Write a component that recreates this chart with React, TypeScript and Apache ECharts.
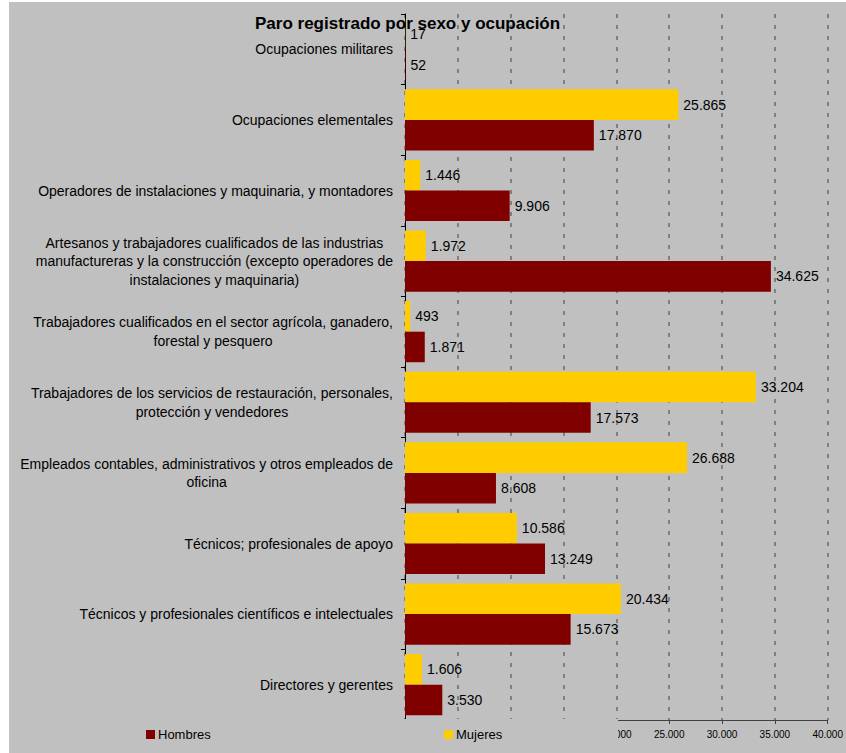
import React, { useEffect, useRef } from "react";
import * as echarts from "echarts";

const categories = [
  "Directores y gerentes",
  "Técnicos y profesionales científicos e intelectuales",
  "Técnicos; profesionales de apoyo",
  "Empleados contables, administrativos y otros empleados de\noficina",
  "Trabajadores de los servicios de restauración, personales,\nprotección y vendedores",
  "Trabajadores cualificados en el sector agrícola, ganadero,\nforestal y pesquero",
  "Artesanos y trabajadores cualificados de las industrias\nmanufactureras y la construcción (excepto operadores de\ninstalaciones y maquinaria)",
  "Operadores de instalaciones y maquinaria, y montadores",
  "Ocupaciones elementales",
  "Ocupaciones militares",
];

const hombres = [3530, 15673, 13249, 8608, 17573, 1871, 34625, 9906, 17870, 52];
const mujeres = [1606, 20434, 10586, 26688, 33204, 493, 1972, 1446, 25865, 17];

const xTicks = { min: 0, max: 40000, interval: 5000 };
// tick labels hidden behind the legend box in the reference
const hiddenBelow = 20000;

const FONT = "'Liberation Sans', Arial, sans-serif";

function fmt(n: number): string {
  return String(n).replace(/\B(?=(\d{3})+(?!\d))/g, ".");
}

export default function App() {
  const ref = useRef<HTMLDivElement>(null);

  useEffect(() => {
    document.body.style.margin = "0";
    if (!ref.current) return;
    const chart = echarts.init(ref.current, undefined, { renderer: "svg" });

    const barLabel = {
      show: true,
      position: "right",
      distance: 5,
      fontFamily: FONT,
      fontSize: 14,
      color: "#000",
      formatter: (p: any) => fmt(p.value),
    };

    const option: any = {
      animation: false,
      backgroundColor: "#ffffff",
      textStyle: { fontFamily: FONT },
      title: {
        text: "Paro registrado por sexo y ocupación",
        left: 255,
        top: 15,
        padding: 0,
        textStyle: {
          fontFamily: FONT,
          fontSize: 17,
          fontWeight: "bold",
          color: "#000",
        },
        z: 20,
      },
      legend: [
        {
          data: ["Hombres"],
          left: 146,
          top: 728,
          padding: 0,
          itemWidth: 9,
          itemHeight: 9,
          icon: "rect",
          textStyle: { fontFamily: FONT, fontSize: 13, color: "#000", padding: [0, 0, 0, -2] },
          z: 60,
        },
        {
          data: ["Mujeres"],
          left: 444,
          top: 728,
          padding: 0,
          itemWidth: 9,
          itemHeight: 9,
          icon: "rect",
          textStyle: { fontFamily: FONT, fontSize: 13, color: "#000", padding: [0, 0, 0, -2] },
          z: 60,
        },
      ],
      grid: { left: 405, right: 17, top: 14, bottom: 33, containLabel: false },
      xAxis: {
        type: "value",
        min: xTicks.min,
        max: xTicks.max,
        interval: xTicks.interval,
        axisLine: { show: true, lineStyle: { color: "#404040", width: 1 } },
        axisTick: { show: true, length: 4, lineStyle: { color: "#404040" } },
        axisLabel: {
          fontFamily: FONT,
          fontSize: 10,
          color: "#000",
          margin: 9,
          formatter: (v: number) => (v < hiddenBelow ? "" : fmt(v)),
        },
        splitLine: {
          show: true,
          lineStyle: { color: "#808080", width: 2, type: [4, 7] },
        },
      },
      yAxis: {
        type: "category",
        data: categories,
        axisLine: { show: true, lineStyle: { color: "#000", width: 1 } },
        axisTick: { show: true, length: 4, lineStyle: { color: "#000" } },
        axisLabel: {
          fontFamily: FONT,
          fontSize: 14,
          color: "#000",
          margin: 12,
          align: "right",
          formatter: (v: string) =>
            v
              .split("\n")
              .map((l) => `{c|${l}}`)
              .join("\n"),
          rich: {
            c: {
              fontFamily: FONT,
              fontSize: 14,
              color: "#000",
              align: "center",
              lineHeight: 18.5,
            },
          },
        },
        splitLine: { show: false },
      },
      series: [
        {
          name: "Mujeres",
          type: "bar",
          data: mujeres,
          itemStyle: { color: "#FFCC00" },
          barGap: "0%",
          barCategoryGap: "13.5%",
          label: barLabel,
        },
        {
          name: "Hombres",
          type: "bar",
          data: hombres,
          itemStyle: { color: "#800000" },
          barGap: "0%",
          barCategoryGap: "13.5%",
          label: barLabel,
        },
      ],
      graphic: [
        {
          type: "rect",
          shape: { x: 9, y: 2, width: 837, height: 751 },
          style: { fill: "#c0c0c0" },
          z: -100,
          silent: true,
        },
        {
          type: "rect",
          shape: { x: 9, y: 719, width: 609, height: 34 },
          style: { fill: "#c0c0c0" },
          z: 50,
          silent: true,
        },
      ],
    };

    chart.setOption(option);
    return () => chart.dispose();
  }, []);

  return <div ref={ref} style={{ width: 846, height: 753 }} />;
}
